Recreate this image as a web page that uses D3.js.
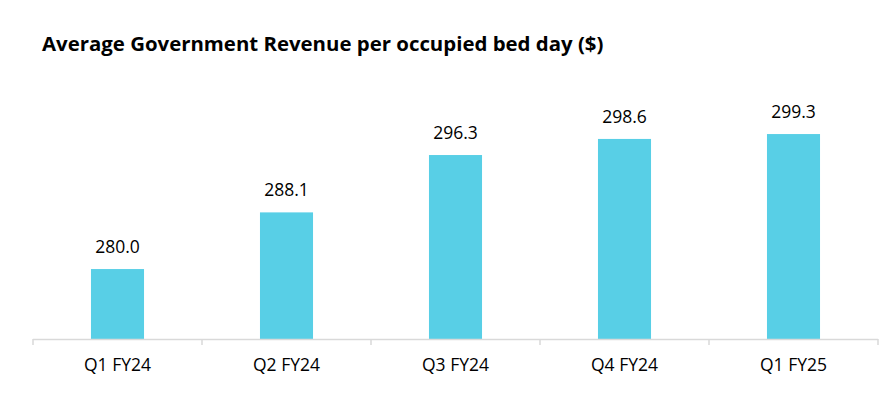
<!DOCTYPE html>
<html>
<head>
<meta charset="utf-8">
<script src="https://cdn.jsdelivr.net/npm/d3@7.9.0/dist/d3.min.js"></script>
<style>
  html, body { margin: 0; padding: 0; background: #fff; }
  svg { display: block; font-family: "Open Sans", sans-serif; }
</style>
</head>
<body>
<svg id="chart" width="889" height="395"></svg>
<script>
const title = 'Average Government Revenue per occupied bed day ($)';
const quarters = ['Q1 FY24', 'Q2 FY24', 'Q3 FY24', 'Q4 FY24', 'Q1 FY25'];
const revenue = [280.0, 288.1, 296.3, 298.6, 299.3];
const yDomain = [270, 300];

const svg = d3.select('#chart');
const baseY = 339;

// title
svg.append('text')
    .attr('x', 42)
    .attr('y', 51)
    .attr('font-size', 20.4)
    .attr('font-weight', 'bold')
    .attr('fill', '#000')
    .text(title);

let x = d3.scaleBand()
    .domain(quarters)
    .range([33, 878])
    .paddingInner(0.686)
    .paddingOuter(0.343);

let band = d3.scaleBand().domain(quarters).range([33, 878]);

let y = d3.scaleLinear()
    .domain(yDomain)
    .range([baseY, baseY - 30 * 6.995]);

// bars
svg.selectAll('rect.bar')
    .data(revenue)
    .join('rect')
    .attr('class', 'bar')
    .attr('x', (d, i) => x(quarters[i]))
    .attr('width', x.bandwidth())
    .attr('y', d => y(d))
    .attr('height', d => baseY - y(d))
    .attr('fill', '#58CFE6');

// value labels
svg.selectAll('text.val')
    .data(revenue)
    .join('text')
    .attr('class', 'val')
    .attr('x', (d, i) => x(quarters[i]) + x.bandwidth() / 2)
    .attr('y', d => y(d) - 16)
    .attr('text-anchor', 'middle')
    .attr('font-size', 17.5)
    .attr('fill', '#000')
    .text(d => d.toFixed(1));

// axis line with boundary ticks
let axis = svg.append('g').attr('stroke', '#D9D9D9').attr('stroke-width', 1.5);
axis.append('line')
    .attr('x1', 33).attr('x2', 878)
    .attr('y1', baseY + 0.5).attr('y2', baseY + 0.5);
let edges = quarters.map(q => band(q)).concat([878]);
axis.selectAll('line.tick')
    .data(edges)
    .join('line')
    .attr('class', 'tick')
    .attr('x1', d => d).attr('x2', d => d)
    .attr('y1', baseY).attr('y2', baseY + 6);

// category labels
svg.selectAll('text.cat')
    .data(quarters)
    .join('text')
    .attr('class', 'cat')
    .attr('x', d => band(d) + band.bandwidth() / 2)
    .attr('y', 371)
    .attr('text-anchor', 'middle')
    .attr('font-size', 17.5)
    .attr('fill', '#000')
    .text(d => d);
</script>
</body>
</html>
